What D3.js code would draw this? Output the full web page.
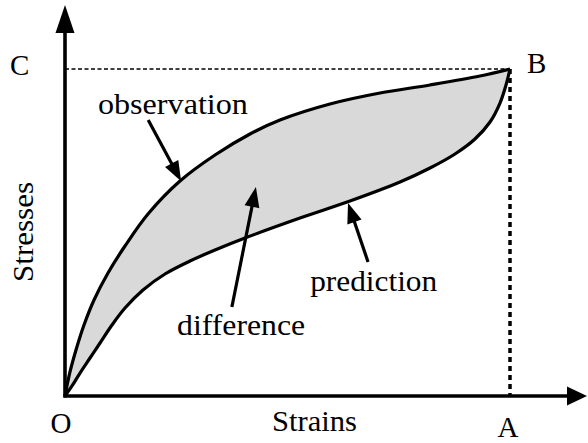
<!DOCTYPE html>
<html>
<head>
<meta charset="utf-8">
<script src="https://cdn.jsdelivr.net/npm/d3@7"></script>
<style>
  html, body { margin: 0; padding: 0; background: #fff; }
  svg { display: block; }
</style>
</head>
<body>
<svg id="chart" width="588" height="443"></svg>
<script>
// ---- data (strain, stress) in relative units: B = (100, 100) ----
const observationStrain = [0, 1.12, 2.47, 4.27, 6.52, 9.66, 13.48, 18.65, 25.84, 33.71, 41.57, 48.31, 59.55, 70.79, 82.02, 93.26, 100];
const observationStress = [0, 7.34, 14.07, 21.71, 29.36, 37.61, 45.87, 55.66, 65.75, 73.70, 80.12, 84.40, 89.30, 92.66, 95.11, 97.86, 100];

const predictionStrain = [0, 1.57, 3.37, 5.62, 7.87, 10.56, 13.48, 17.53, 22.47, 28.09, 33.71, 40.45, 52.81, 64.04, 75.28, 82.02, 87.64, 92.13, 95.51, 97.75, 99.10, 100];
const predictionStress = [0, 3.06, 7.03, 11.62, 16.21, 21.71, 26.91, 32.42, 37.31, 41.28, 44.65, 48.32, 54.43, 59.63, 65.44, 69.72, 74.01, 78.59, 83.79, 89.60, 95.11, 100];

// annotation labels and arrows (tail -> tip), in data units
const labelNames = ["observation", "difference", "prediction"];
const labelStrain = [7.4, 25.2, 55.1];
const labelStress = [86.2, 18.7, 32.1];
const arrowTailStrain = [18.7, 37.5, 68.1];
const arrowTailStress = [84.4, 27.2, 41.0];
const arrowTipStrain = [26.1, 42.9, 63.6];
const arrowTipStress = [65.7, 63.9, 59.0];

// axis extent (arrow tips) and point letters
const axisMaxStrain = 117.3;
const axisMaxStress = 119.6;
const axisTitles = ["Strains", "Stresses"];
const pointLetters = ["O", "A", "B", "C"];

// ---- drawing ----
const FONT = "'Liberation Serif', 'Times New Roman', Times, Tinos, 'Nimbus Roman', 'Nimbus Roman No9 L', FreeSerif, 'Noto Serif', 'DejaVu Serif', serif";
const SIZE = 29;
const svg = d3.select("#chart");
const x = d3.scaleLinear().domain([0, 100]).range([65, 510]);
const y = d3.scaleLinear().domain([0, 100]).range([396, 69]);

const obs = observationStrain.map((s, i) => [s, observationStress[i]]);
const pred = predictionStrain.map((s, i) => [s, predictionStress[i]]);

const line = d3.line().x(d => x(d[0])).y(d => y(d[1])).curve(d3.curveCatmullRom.alpha(0.5));

function txt(xp, yp, s, opts = {}) {
  const t = svg.append("text").attr("x", xp).attr("y", yp)
    .style("font-family", FONT).style("font-size", SIZE + "px").attr("fill", "#000")
    .attr("text-anchor", opts.anchor || "start").text(s);
  if (opts.len) t.attr("textLength", opts.len).attr("lengthAdjust", "spacingAndGlyphs");
  if (opts.transform) t.attr("transform", opts.transform);
  return t;
}

// shaded difference region
const areaPath = line(obs) + line(pred.slice().reverse()).replace(/^M/, "L") + "Z";
svg.append("path").attr("d", areaPath).attr("fill", "#d9d9d9").attr("stroke", "none");

// dashed guides
svg.append("line")
  .attr("x1", x(0)).attr("x2", x(100)).attr("y1", y(100)).attr("y2", y(100))
  .attr("stroke", "#000").attr("stroke-width", 1.6).attr("stroke-dasharray", "4,2.5");
svg.append("line")
  .attr("x1", x(100)).attr("x2", x(100)).attr("y1", y(100)).attr("y2", y(0))
  .attr("stroke", "#000").attr("stroke-width", 3.5).attr("stroke-dasharray", "5,4");

// curves
svg.append("path").attr("d", line(obs)).attr("fill", "none").attr("stroke", "#000").attr("stroke-width", 3.2).attr("stroke-linejoin", "round");
svg.append("path").attr("d", line(pred)).attr("fill", "none").attr("stroke", "#000").attr("stroke-width", 3.2).attr("stroke-linejoin", "round");

// arrows
function arrow(x1, y1, x2, y2, width, headLen, headHalf) {
  const dx = x2 - x1, dy = y2 - y1, L = Math.hypot(dx, dy);
  const ux = dx / L, uy = dy / L;
  const bx = x2 - ux * headLen, by = y2 - uy * headLen;
  svg.append("line").attr("x1", x1).attr("y1", y1).attr("x2", bx + ux).attr("y2", by + uy)
    .attr("stroke", "#000").attr("stroke-width", width);
  svg.append("path")
    .attr("d", `M${x2},${y2}L${bx - uy * headHalf},${by + ux * headHalf}L${bx + uy * headHalf},${by - ux * headHalf}Z`)
    .attr("fill", "#000");
}
arrow(x(0) - 1.5, y(0), x(axisMaxStrain), y(0), 3.6, 20, 9.5);
arrow(x(0), y(0) + 1.5, x(0), y(axisMaxStress), 3.6, 28, 9.5);

const labelLens = [150, 128, 127];
labelNames.forEach((name, i) => {
  arrow(x(arrowTailStrain[i]), y(arrowTailStress[i]), x(arrowTipStrain[i]), y(arrowTipStress[i]), 3.2, 20, 7.5);
  txt(x(labelStrain[i]), y(labelStress[i]), name, { len: labelLens[i] });
});

// point letters
txt(x(0) - 4, 433, pointLetters[0], { anchor: "middle" });
txt(x(100) - 2, 437, pointLetters[1], { anchor: "middle" });
txt(x(100) + 17, y(100) + 4, pointLetters[2]);
txt(10, y(100) + 6, pointLetters[3]);

// axis titles
txt(314.5, 431, axisTitles[0], { anchor: "middle", len: 85 });
txt(0, 0, axisTitles[1], { anchor: "middle", len: 100, transform: "translate(33,232) rotate(-90)" });
</script>
</body>
</html>
